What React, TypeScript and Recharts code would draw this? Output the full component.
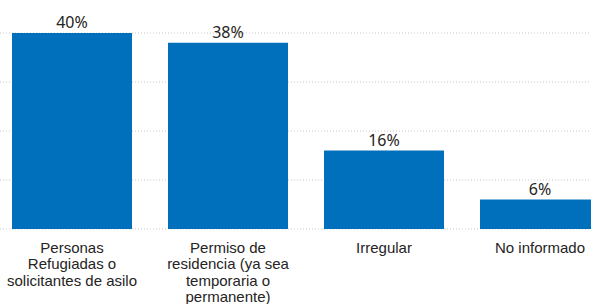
import React from "react";
import { BarChart, Bar, XAxis, YAxis, CartesianGrid, LabelList } from "recharts";

const categories = [
  "Personas\nRefugiadas o\nsolicitantes de asilo",
  "Permiso de\nresidencia (ya sea\ntemporaria o\npermanente)",
  "Irregular",
  "No informado",
];
const values = [40, 38, 16, 6];
const yTicks = [0, 10, 20, 30, 40];

const data = categories.map((c, i) => ({ name: c, value: values[i] }));

const CategoryTick = (props: any) => {
  const { x, y, payload } = props;
  const lines = String(payload.value).split("\n");
  return (
    <text
      x={x}
      y={y}
      textAnchor="middle"
      fill="#252423"
      fontFamily="'Liberation Sans', Arial, sans-serif"
      fontSize={15}
    >
      {lines.map((l, i) => (
        <tspan key={i} x={x} y={y + 23.5 + i * 16.6}>
          {l}
        </tspan>
      ))}
    </text>
  );
};

export default function App() {
  return (
    <div
      style={{
        position: "absolute",
        left: 0,
        top: 0,
        width: 591,
        height: 304,
        overflow: "hidden",
        background: "#fff",
      }}
    >
      <div style={{ position: "absolute", left: -6, top: 0 }}>
        <BarChart
          width={624}
          height={304}
          data={data}
          margin={{ top: 33, right: 0, left: 0, bottom: 0 }}
          barSize={120}
        >
          <CartesianGrid
            vertical={false}
            stroke="#c8c8c8"
            strokeDasharray="1 2"
          />
          <XAxis
            dataKey="name"
            axisLine={false}
            tickLine={false}
            tickSize={0}
            tickMargin={0}
            height={75}
            interval={0}
            tick={<CategoryTick />}
          />
          <YAxis hide domain={[0, 40]} ticks={yTicks} />
          <Bar dataKey="value" fill="#0070BC" isAnimationActive={false}>
            <LabelList
              dataKey="value"
              position="top"
              offset={5}
              formatter={(v: any) => `${v}%`}
              fill="#252423"
              fontFamily="'Noto Sans', 'Open Sans', sans-serif"
              fontSize={16}
            />
          </Bar>
        </BarChart>
      </div>
    </div>
  );
}
